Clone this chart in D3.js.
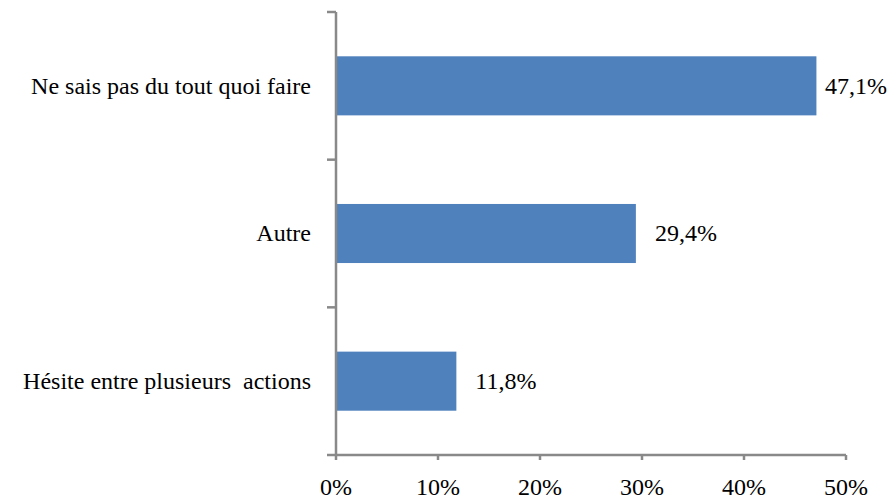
<!DOCTYPE html>
<html>
<head>
<meta charset="utf-8">
<script src="https://cdn.jsdelivr.net/npm/d3@7"></script>
</head>
<body style="margin:0">
<svg id="chart" width="893" height="500"></svg>
<script>
const categories = ["Ne sais pas du tout quoi faire", "Autre", "Hésite entre plusieurs  actions"];
const values = [0.471, 0.294, 0.118];
const valueLabels = ["47,1%", "29,4%", "11,8%"];
const xTicks = [0, 0.1, 0.2, 0.3, 0.4, 0.5];
const xTickLabels = ["0%", "10%", "20%", "30%", "40%", "50%"];

const W = 893, H = 500;
const FONT = '"Liberation Serif", monospace';
const svg = d3.select("#chart");
const axisColor = "#898989";
const barColor = "#4F81BD";

const x = d3.scaleLinear().domain([0, 0.5]).range([336, 846]);
const y = d3.scaleBand().domain(categories).range([12, 455]).paddingInner(0.6).paddingOuter(0.3);

svg.selectAll("rect.bar").data(categories).enter().append("rect")
  .attr("class", "bar")
  .attr("x", x(0))
  .attr("y", d => y(d))
  .attr("width", (d, i) => x(values[i]) - x(0))
  .attr("height", y.bandwidth())
  .attr("fill", barColor);

const yTop = y.range()[0], yBot = y.range()[1];
svg.append("line")
  .attr("x1", x(0)).attr("x2", x(0)).attr("y1", yTop).attr("y2", yBot)
  .attr("stroke", axisColor).attr("stroke-width", 2.5);

const boundaries = categories.map(c => y(c) - y.step() * 0.3).concat([yBot]);
svg.selectAll("line.ytick").data(boundaries).enter().append("line")
  .attr("class", "ytick")
  .attr("x1", x(0) - 9).attr("x2", x(0))
  .attr("y1", d => d).attr("y2", d => d)
  .attr("stroke", axisColor).attr("stroke-width", 2.5);

svg.append("line")
  .attr("x1", x(0)).attr("x2", x(0.5)).attr("y1", yBot).attr("y2", yBot)
  .attr("stroke", axisColor).attr("stroke-width", 2.5);

svg.selectAll("line.xtick").data(xTicks).enter().append("line")
  .attr("class", "xtick")
  .attr("x1", d => x(d)).attr("x2", d => x(d))
  .attr("y1", yBot).attr("y2", yBot + 5)
  .attr("stroke", axisColor).attr("stroke-width", 2.5);

svg.selectAll("text.xlabel").data(xTicks).enter().append("text")
  .attr("class", "xlabel")
  .attr("x", d => x(d))
  .attr("y", yBot + 40)
  .attr("text-anchor", "middle")
  .attr("font-size", 24)
  .style("font-family", FONT)
  .text((d, i) => xTickLabels[i]);

svg.selectAll("text.ylabel").data(categories).enter().append("text")
  .attr("class", "ylabel")
  .attr("x", 311)
  .attr("y", d => y(d) + y.bandwidth() / 2)
  .attr("dy", "0.33em")
  .attr("text-anchor", "end")
  .attr("font-size", 24)
  .style("font-family", FONT)
  .style("white-space", "pre")
  .text(d => d);

svg.selectAll("text.vlabel").data(categories).enter().append("text")
  .attr("class", "vlabel")
  .attr("y", d => y(d) + y.bandwidth() / 2)
  .attr("dy", "0.33em")
  .attr("font-size", 24)
  .style("font-family", FONT)
  .text((d, i) => valueLabels[i])
  .each(function(d, i) {
    const w = this.getComputedTextLength();
    const pos = Math.min(x(values[i]) + 19, W - 6 - w);
    d3.select(this).attr("x", pos);
  });
</script>
</body>
</html>
